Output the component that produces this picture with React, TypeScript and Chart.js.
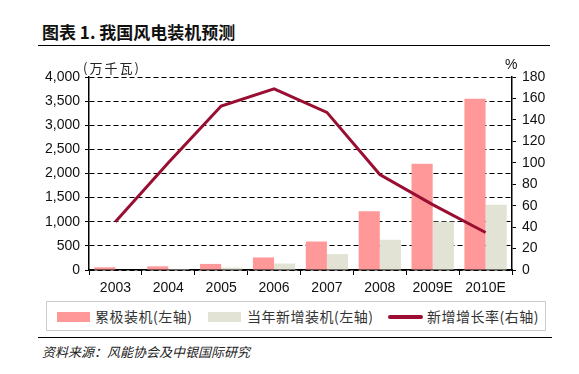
import React, { useEffect, useRef } from "react";
import { Chart, registerables } from "chart.js";

Chart.register(...registerables);

const categories = ["2003", "2004", "2005", "2006", "2007", "2008", "2009E", "2010E"];
const cumulative = [57, 76, 126, 260, 590, 1217, 2200, 3550];
const newInstalled = [10, 20, 50, 134, 330, 627, 1000, 1350];
const growth = [45, 100, 153, 169, 147, 89, 61, 35];

const leftTicksMax = 4000;
const leftTickStep = 500;
const rightTicksMax = 180;
const rightTickStep = 20;

const seriesNames = ["累极装机(左轴)", "当年新增装机(左轴)", "新增增长率(右轴)"];

const PINK = "#FF9999";
const BEIGE = "#E2E3D4";
const RED = "#9A0E32";
const NUM_FONT = "'Liberation Sans', Arial, sans-serif";
const CJK = "'Noto Sans CJK SC', 'Noto Sans', sans-serif";

export default function App() {
  const ref = useRef<HTMLCanvasElement | null>(null);

  useEffect(() => {
    if (!ref.current) return;
    const numFont = { family: NUM_FONT, size: 14 };
    const chart = new Chart(ref.current, {
      type: "bar",
      data: {
        labels: categories,
        datasets: [
          {
            type: "line",
            label: seriesNames[2],
            data: growth,
            yAxisID: "y1",
            borderColor: RED,
            backgroundColor: RED,
            borderWidth: 3,
            pointRadius: 0,
            tension: 0,
            order: 0,
          } as any,
          {
            label: seriesNames[0],
            data: cumulative,
            yAxisID: "y",
            backgroundColor: PINK,
            barPercentage: 1,
            categoryPercentage: 0.8,
            order: 1,
          },
          {
            label: seriesNames[1],
            data: newInstalled,
            yAxisID: "y",
            backgroundColor: BEIGE,
            barPercentage: 1,
            categoryPercentage: 0.8,
            order: 1,
          },
        ],
      },
      options: {
        responsive: false,
        animation: false,
        layout: { padding: { top: 77, left: 0, right: 0, bottom: 0 } },
        plugins: { legend: { display: false }, tooltip: { enabled: false } },
        scales: {
          x: {
            grid: {
              drawOnChartArea: false,
              drawTicks: true,
              tickLength: 5,
              tickColor: "#000",
              color: "#000",
            },
            border: { display: true, color: "#000", width: 1.5 },
            ticks: { color: "#111", font: numFont, padding: 5 },
            afterFit: (s: any) => {
              s.height = 30;
            },
          },
          y: {
            position: "left",
            min: 0,
            max: leftTicksMax,
            grid: {
              drawOnChartArea: true,
              drawTicks: true,
              tickLength: 4,
              tickColor: "#000",
              tickBorderDash: [],
              color: "#000",
              lineWidth: 1,
            },
            border: { display: true, color: "#000", width: 1.5, dash: [5, 3] },
            ticks: {
              stepSize: leftTickStep,
              color: "#111",
              font: numFont,
              padding: 5,
              callback: (v: any) => Number(v).toLocaleString("en-US"),
            },
            afterFit: (s: any) => {
              s.width = 89;
            },
          },
          y1: {
            position: "right",
            min: 0,
            max: rightTicksMax,
            grid: {
              drawOnChartArea: false,
              drawTicks: true,
              tickLength: 4,
              tickColor: "#000",
              color: "#000",
            },
            border: { display: true, color: "#000", width: 1.5 },
            ticks: { stepSize: rightTickStep, color: "#111", font: numFont, padding: 6 },
            afterFit: (s: any) => {
              s.width = 67;
            },
          },
        },
      },
    });
    return () => chart.destroy();
  }, []);

  const abs = (s: React.CSSProperties): React.CSSProperties => ({ position: "absolute", whiteSpace: "nowrap", ...s });

  return (
    <div style={{ position: "absolute", left: 0, top: 0, width: 579, height: 374, background: "#fff" }}>
      <div style={abs({ left: 42, top: 20, fontFamily: CJK, fontWeight: 700, fontSize: 17, lineHeight: "24px", color: "#111" })}>
        图表 1. 我国风电装机预测
      </div>
      <div style={abs({ left: 38, top: 45, width: 512, height: 0, borderTop: "1.5px solid #000" })} />
      <canvas ref={ref} width={579} height={300} style={abs({ left: 0, top: 0 })} />
      <div style={abs({ left: 83, top: 61, fontFamily: CJK, fontSize: 13, letterSpacing: "2px", lineHeight: "14px", color: "#222" })}>(万千瓦)</div>
      <div style={abs({ left: 505, top: 57, fontFamily: NUM_FONT, fontSize: 14, lineHeight: "14px", color: "#111" })}>%</div>
      <div style={abs({ left: 46, top: 301, width: 498, height: 28, border: "1px solid #ccc" })} />
      <div style={abs({ left: 57, top: 312, width: 33, height: 10, background: PINK })} />
      <div style={abs({ left: 95, top: 307, fontFamily: CJK, fontSize: 14, letterSpacing: "0.5px", lineHeight: "18px", color: "#333" })}>{seriesNames[0]}</div>
      <div style={abs({ left: 208, top: 312, width: 33, height: 10, background: BEIGE })} />
      <div style={abs({ left: 247, top: 307, fontFamily: CJK, fontSize: 14, letterSpacing: "0.5px", lineHeight: "18px", color: "#333" })}>{seriesNames[1]}</div>
      <div style={abs({ left: 388, top: 315, width: 35, height: 4, borderRadius: 2, background: RED })} />
      <div style={abs({ left: 427, top: 307, fontFamily: CJK, fontSize: 14, letterSpacing: "0.5px", lineHeight: "18px", color: "#333" })}>{seriesNames[2]}</div>
      <div style={abs({ left: 38, top: 337, width: 514, height: 0, borderTop: "1.5px solid #000" })} />
      <div style={abs({ left: 42, top: 344, fontFamily: CJK, fontStyle: "italic", fontSize: 13, lineHeight: "16px", color: "#222" })}>
        资料来源：风能协会及中银国际研究
      </div>
    </div>
  );
}
